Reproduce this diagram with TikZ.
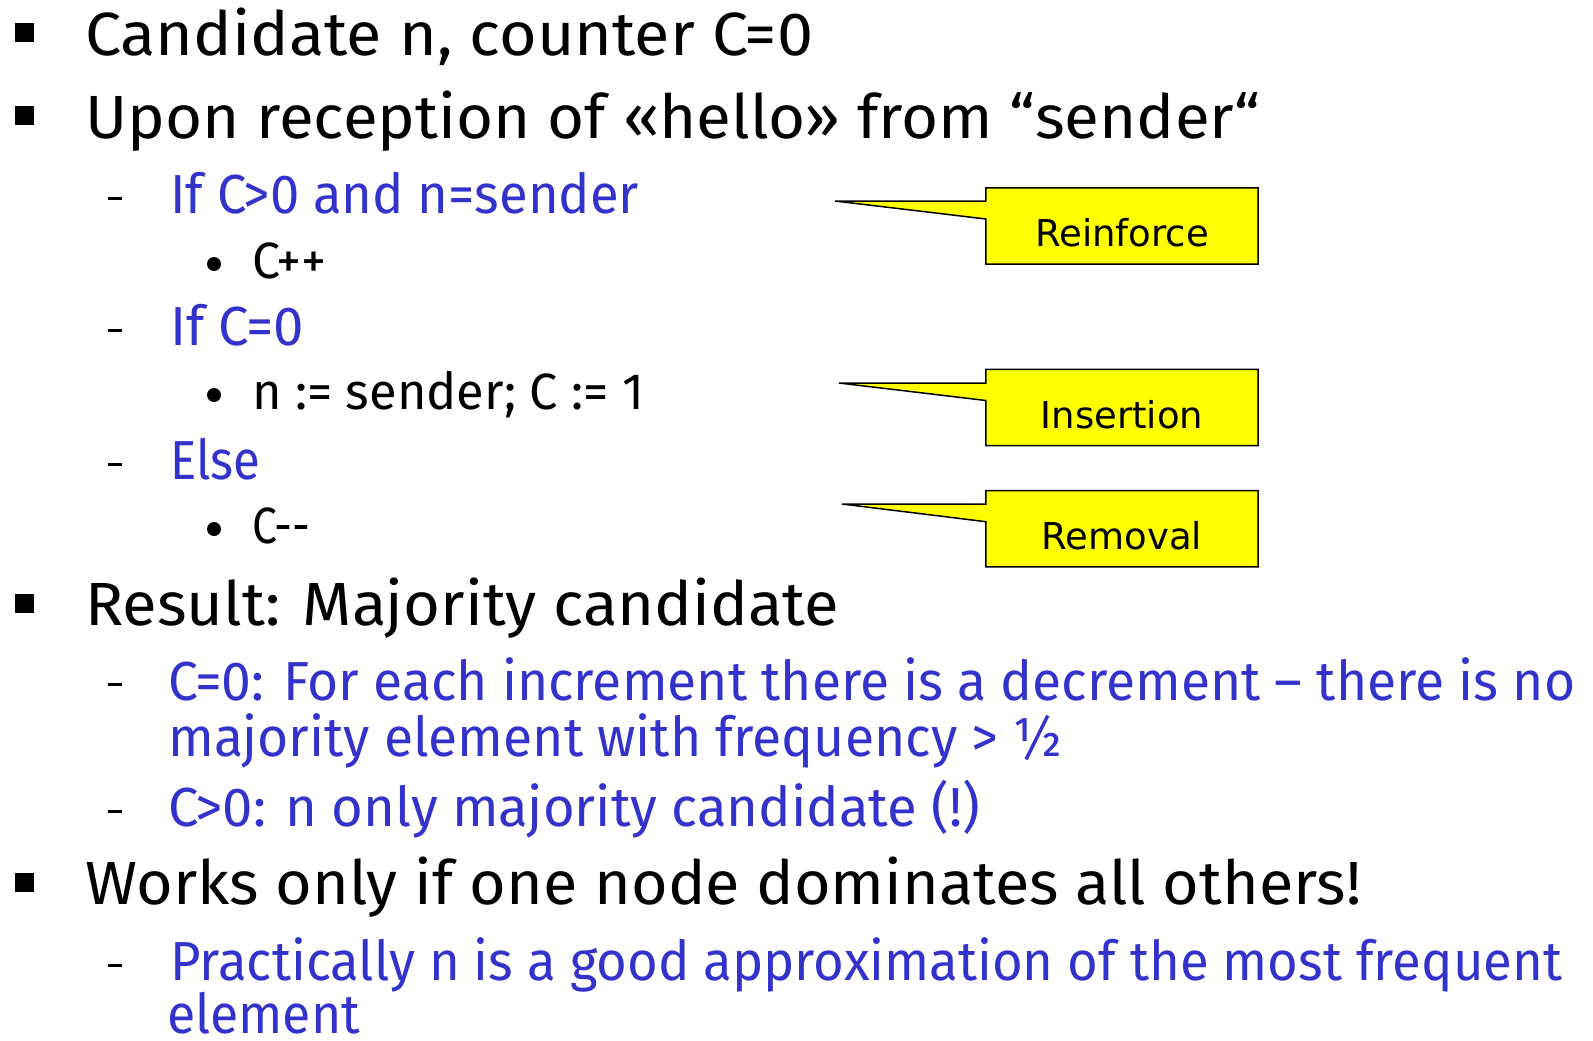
\documentclass[tikz,border=0pt]{standalone}
\usepackage{fontspec}
\usepackage{graphicx}
\setmainfont{Fira Sans}
\newfontfamily\boxfont{DejaVu Sans}
\definecolor{itemblue}{HTML}{3333CC}
\definecolor{noteyellow}{HTML}{FFFF00}
% set a line to a given width, keeping its height
\newcommand\fitw[2]{\resizebox{#1pt}{\height}{#2}}
\begin{document}
\begin{tikzpicture}[x=1pt,y=-1pt,
  lvlone/.style={anchor=base west,inner sep=0pt,font=\fontsize{61}{61}\selectfont,text=black},
  lvltwo/.style={anchor=base west,inner sep=0pt,font=\fontsize{55}{55}\selectfont,text=itemblue},
  lvlthree/.style={anchor=base west,inner sep=0pt,font=\fontsize{51}{51}\selectfont,text=black},
  sqbullet/.style={fill=black,inner sep=0pt,minimum size=19pt},
  dashmark/.style={fill=black,inner sep=0pt,minimum width=14pt,minimum height=3pt},
  dotmark/.style={circle,fill=black,inner sep=0pt,minimum size=14pt},
  notebox/.style={inner sep=0pt,minimum width=272pt,minimum height=76pt},
  callout/.style={fill=noteyellow,draw=black,line width=1.5pt,line join=miter},
  notetext/.style={anchor=base,inner sep=0pt,font=\boxfont\fontsize{37}{37}\selectfont}]
\useasboundingbox (0,0) rectangle (1593,1041);

% top-level items
\node[sqbullet] (b1) at (24.5,33) {};
\node[lvlone] (t1) at (85,56) {\fitw{728}{Candidate n, counter C=0}};
\node[sqbullet] (b2) at (24.5,115) {};
\node[lvlone] (t2) at (85,138) {\fitw{1175}{Upon reception of «hello» from “sender“}};

% branches of the update rule
\node[dashmark] (d1) at (115,198) {};
\node[lvltwo] (t3) at (170,213) {\fitw{469}{If C>0 and n=sender}};
\node[dotmark] (p1) at (214,264) {};
\node[lvlthree] (t4) at (252,278) {\fitw{74}{C++}};
\node[dashmark] (d2) at (115,330) {};
\node[lvltwo] (t5) at (170,345) {\fitw{134}{If C=0}};
\node[dotmark] (p2) at (214,395) {};
\node[lvlthree] (t6) at (252,409) {\fitw{392}{n := sender; C := 1}};
\node[dashmark] (d3) at (115,464) {};
\node[lvltwo] (t7) at (170,479) {\fitw{90}{Else}};
\node[dotmark] (p3) at (214,529) {};
\node[lvlthree] (t8) at (252,543) {\fitw{58}{C-{}-}};

% result
\node[sqbullet] (b3) at (24.5,603.5) {};
\node[lvlone] (t9) at (85,625) {\fitw{754}{Result: Majority candidate}};
\node[dashmark] (d4) at (115,684) {};
\node[lvltwo] (t10) at (168,700) {\fitw{1407}{C=0: For each increment there is a decrement – there is no}};
\node[lvltwo] (t11) at (168,756) {\fitw{894}{majority element with frequency > ½}};
\node[dashmark] (d5) at (115,811) {};
\node[lvltwo] (t12) at (168,826) {\fitw{812}{C>0: n only majority candidate (!)}};

% limitation
\node[sqbullet] (b4) at (24.5,882) {};
\node[lvlone] (t13) at (85,904) {\fitw{1276}{Works only if one node dominates all others!}};
\node[dashmark] (d6) at (115,965) {};
\node[lvltwo] (t14) at (170,980) {\fitw{1392}{Practically n is a good approximation of the most frequent}};
\node[lvltwo] (t15) at (167,1033) {\fitw{193}{element}};

% callouts
\foreach \nm/\cy/\tx/\ty/\lbl in {rf/226/835/201/Reinforce, ins/407.5/839/383/Insertion, rem/528.7/842/504/Removal}{
  \node[notebox] (\nm) at (1122,\cy) {};
  \coordinate (\nm tip) at (\tx,\ty);
  \path[callout] (\nm tip) -- (\nm.west |- \nm tip) -- (\nm.north west) -- (\nm.north east)
     -- (\nm.south east) -- (\nm.south west) -- ([yshift=7pt]\nm.west) -- cycle;
  \node[notetext] (\nm lbl) at ([yshift=-20.7pt]\nm.center) {\lbl};
}
\end{tikzpicture}
\end{document}
